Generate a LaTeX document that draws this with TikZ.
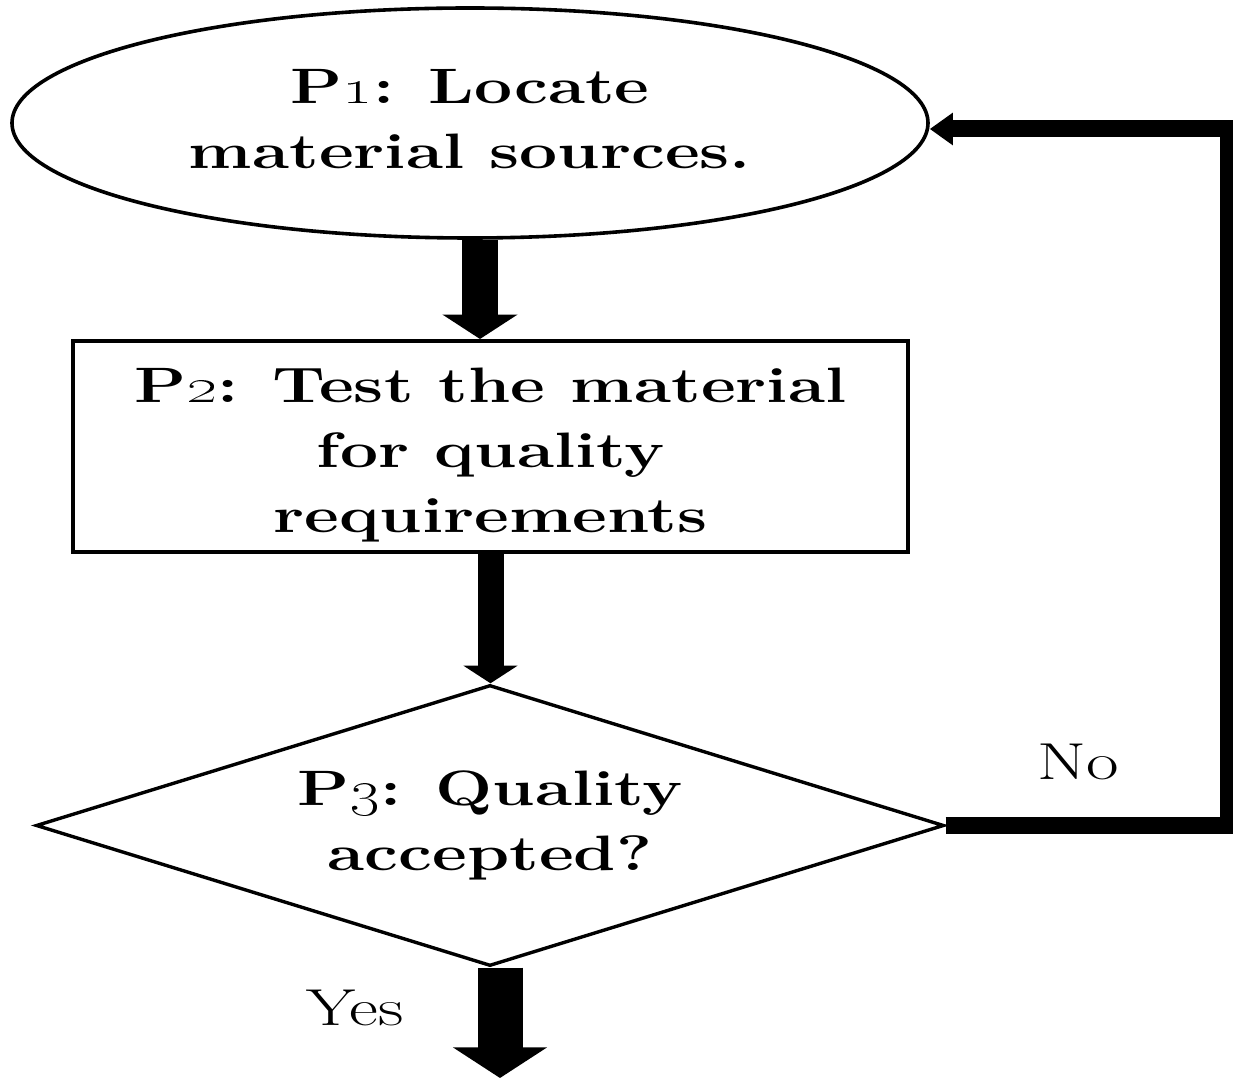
\documentclass[tikz,border=0pt]{standalone}
\usepackage{graphicx}
\usetikzlibrary{shapes.geometric,arrows.meta}
\newcommand{\widetxt}[1]{\scalebox{1.36}[1]{\begin{tabular}{@{}c@{}}#1\end{tabular}}}
\tikzset{
  lbl/.style={font=\fontsize{24.88}{32.5}\selectfont\bfseries, inner sep=0pt},
  plain/.style={font=\fontsize{26}{32.5}\selectfont, inner sep=0pt, anchor=base},
  oval/.style={lbl, draw, ellipse, line width=1.8pt, minimum width=458pt, minimum height=115pt},
  box/.style={lbl, draw, rectangle, line width=2pt, minimum width=417.5pt, minimum height=99.5pt},
  decide/.style={lbl, draw, diamond, aspect=3.24, line width=1.7pt, minimum width=454pt, minimum height=140.5pt},
  flowarrow/.style={-{Triangle[width=0pt 2.06, length=0pt 0.68]}, line cap=butt},
  loopline/.style={line width=8.5pt, line join=miter, -{Triangle[width=15.5pt, length=11.5pt]}}
}
\begin{document}
\begin{tikzpicture}[x=0.5pt,y=-0.5pt]
\useasboundingbox (0,0) rectangle (1233,1079);
\node[oval] (p1) at (470,123) {\widetxt{P\oldstylenums{1}: Locate\\material sources.}};
\node[box] (p2) at (490.5,446.5) {\widetxt{\rule{0pt}{30.75pt}P\oldstylenums{2}: Test the material\\for quality\\requirements}};
\node[decide] (p3) at (490,825.5) {\widetxt{P\oldstylenums{3}: Quality\\accepted?}};
\coordinate (yesend) at ([xshift=5pt]p3.south |- 0,1078);
\coordinate (cornerlow) at (1228,825.5);
\coordinate (cornerhigh) at (1228,129);
\draw[flowarrow, line width=18pt] ([xshift=5pt]p1.south) -- ([xshift=5pt]p1.south |- p2.north);
\draw[flowarrow, line width=13pt] (p2.south) -- (p2.south |- p3.north);
\draw[flowarrow, line width=22.5pt] ([xshift=5pt]p3.south) -- (yesend);
\draw[loopline] (p3.east) -- (cornerlow) -- (cornerhigh) -- ([yshift=-3pt]p1.east);
\node[plain] (no) at (1078,780) {\scalebox{1.36}[1]{No}};
\node[plain] (yes) at (355,1025) {\scalebox{1.36}[1]{Yes}};
\end{tikzpicture}
\end{document}
